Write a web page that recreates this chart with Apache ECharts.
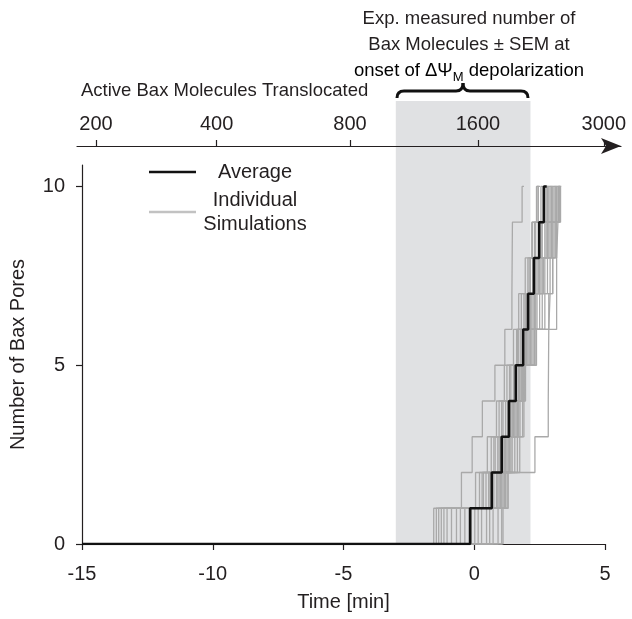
<!DOCTYPE html>
<html>
<head>
<meta charset="utf-8">
<script src="https://cdn.jsdelivr.net/npm/echarts@6/dist/echarts.min.js"></script>
<style>
  html, body { margin: 0; padding: 0; background: #fff; }
  #chart { width: 632px; height: 619px; }
</style>
</head>
<body>
<div id="chart"></div>
<script>
// time axis (minutes)
var timeTicks = [-15, -10, -5, 0, 5];
var poreTicks = [0, 5, 10];

// top axis: molecules translocated, placed at the matching time
var topTickLabels = ['200', '400', '800', '1600', '3000'];
var topTickTimes = [-14.5, -9.88, -4.77, 0.13, 4.95];

// measured window (time)
var shadeRange = [-3.0, 2.15];

// average: time at which pore count reaches 1..10
var avgTimes = [-0.16, 0.67, 1.05, 1.33, 1.59, 1.87, 2.06, 2.28, 2.48, 2.66];
var avgEnd = 2.77;

// individual simulations: time at which pore count reaches 1..10
var simTimes = [
    [-1.55, -0.49, -0.08, 0.31, 0.79, 1.17, 1.44, 1.45, 1.46, 1.83],
    [-1.45, 0.20, 0.65, 0.95, 1.25, 1.62, 1.80, 2.05, 2.30, 2.45],
    [-1.36, 0.35, 0.80, 1.10, 1.40, 1.70, 1.95, 2.10, 2.22, 2.40],
    [-1.26, 0.05, 0.50, 0.85, 1.15, 1.50, 1.70, 1.95, 2.20, 2.38],
    [-1.16, 0.45, 0.90, 1.20, 1.55, 1.85, 2.00, 2.25, 2.50, 2.70],
    [-1.04, 0.55, 1.00, 1.28, 1.50, 1.78, 2.02, 2.30, 2.55, 2.75],
    [-0.87, 0.30, 0.75, 1.05, 1.35, 1.65, 1.90, 2.15, 2.35, 2.55],
    [-0.68, 0.60, 1.10, 1.40, 1.62, 1.95, 2.15, 2.40, 2.60, 2.85],
    [-0.53, 0.75, 1.15, 1.45, 1.70, 2.00, 2.20, 2.45, 2.70, 2.90],
    [-0.36, 0.70, 0.95, 1.30, 1.60, 1.90, 2.10, 2.35, 2.55, 2.80],
    [-0.11, 0.85, 1.20, 1.50, 1.75, 2.05, 2.30, 2.50, 2.75, 2.95],
    [0.02, 0.90, 1.30, 1.55, 1.80, 2.10, 2.35, 2.55, 2.80, 3.00],
    [0.15, 0.95, 1.25, 1.48, 1.72, 1.98, 2.25, 2.60, 2.85, 3.05],
    [0.28, 1.00, 1.35, 1.60, 1.85, 2.15, 2.40, 2.65, 2.90, 3.10],
    [0.47, 1.05, 1.40, 1.65, 1.90, 2.20, 2.50, 2.70, 2.95, 3.15],
    [0.59, 1.10, 1.45, 1.70, 1.88, 2.25, 2.60, 2.80, 3.00, 3.20],
    [0.72, 1.15, 1.55, 1.75, 1.92, 2.30, 2.70, 2.90, 3.05, 3.22],
    [0.91, 1.20, 1.65, 1.85, 1.96, 2.38, 2.85, 3.00, 3.10, 3.25],
    [1.10, 1.26, 1.74, 1.90, 1.96, 2.33, 3.15, 3.15, 3.20, 3.30],
    [1.05, 1.30, 2.32, 2.83, 2.84, 2.85, 2.90, 3.00, 3.15, 3.27]
];
var simEnds = [1.90, 2.52, 2.47, 2.45, 2.77, 2.82, 2.62, 2.92, 2.97, 2.87,
               3.02, 3.07, 3.12, 3.17, 3.22, 3.27, 3.27, 3.30, 3.33, 3.30];

var FONT = 'Liberation Sans, Arial, sans-serif';
var INK = '#231f20';

// step path from the crossing times
function stepData(times, end) {
    var d = [[-15, 0]];
    for (var i = 0; i < times.length; i++) {
        d.push([times[i], i + 1]);
    }
    d.push([end, times.length]);
    return d;
}

var series = [];

// shaded window, drawn in its own grid so it reaches up to the top axis
series.push({
    type: 'line',
    xAxisIndex: 2,
    yAxisIndex: 2,
    data: [],
    silent: true,
    z: -1,
    markArea: {
        silent: true,
        z: -1,
        itemStyle: { color: '#e0e1e3' },
        data: [[{ xAxis: shadeRange[0], yAxis: 0 }, { xAxis: shadeRange[1], yAxis: 1 }]]
    }
});

for (var s = 0; s < simTimes.length; s++) {
    series.push({
        name: 'Individual\nSimulations',
        type: 'line',
        step: 'end',
        showSymbol: false,
        symbol: 'none',
        silent: true,
        lineStyle: { color: '#a9a9a9', width: 1.3 },
        itemStyle: { color: '#a9a9a9' },
        data: stepData(simTimes[s], simEnds[s])
    });
}

series.push({
    name: 'Average',
    type: 'line',
    step: 'end',
    showSymbol: false,
    symbol: 'none',
    silent: true,
    z: 5,
    lineStyle: { color: '#111', width: 2.6 },
    itemStyle: { color: '#111' },
    data: stepData(avgTimes, avgEnd)
});

// curly brace over the shaded window
var braceStyle = { stroke: '#111', lineWidth: 3, fill: 'none' };
var brace = [
    { type: 'bezierCurve', shape: { x1: 397, y1: 98, x2: 404, y2: 91, cpx1: 397, cpy1: 91 }, style: braceStyle },
    { type: 'line', shape: { x1: 404, y1: 91, x2: 456, y2: 91 }, style: braceStyle },
    { type: 'bezierCurve', shape: { x1: 456, y1: 91, x2: 463, y2: 83, cpx1: 463, cpy1: 91 }, style: braceStyle },
    { type: 'bezierCurve', shape: { x1: 463, y1: 83, x2: 470, y2: 91, cpx1: 463, cpy1: 91 }, style: braceStyle },
    { type: 'line', shape: { x1: 470, y1: 91, x2: 521, y2: 91 }, style: braceStyle },
    { type: 'bezierCurve', shape: { x1: 521, y1: 91, x2: 528, y2: 98, cpx1: 528, cpy1: 91 }, style: braceStyle }
];

var chart = echarts.init(document.getElementById('chart'), null, { renderer: 'canvas' });

chart.setOption({
    animation: false,
    backgroundColor: '#fff',
    textStyle: { fontFamily: FONT, color: INK },
    grid: [
        { left: 82, right: 27, top: 165, bottom: 75, outerBoundsMode: 'none' },
        { left: 77, right: 11, top: 146, height: 1, outerBoundsMode: 'none' },
        { left: 82, right: 27, top: 101, bottom: 75, outerBoundsMode: 'none' }
    ],
    legend: {
        orient: 'vertical',
        left: 149,
        top: 162,
        padding: 0,
        itemGap: 8,
        itemWidth: 47,
        itemHeight: 2.5,
        icon: 'rect',
        data: [
            { name: 'Average' },
            { name: 'Individual\nSimulations', itemStyle: { color: '#c2c2c2' } }
        ],
        formatter: function (name) { return '{t|' + name + '}'; },
        textStyle: {
            fontFamily: FONT,
            color: INK,
            rich: {
                t: { width: 108, align: 'center', fontSize: 20, lineHeight: 24, fontFamily: FONT, color: INK }
            }
        }
    },
    xAxis: [
        {
            gridIndex: 0,
            type: 'value',
            min: -15,
            max: 5,
            interval: 5,
            name: 'Time [min]',
            nameLocation: 'middle',
            nameGap: 48,
            nameTextStyle: { fontSize: 20, color: INK, fontFamily: FONT },
            axisLine: { onZero: false, lineStyle: { color: INK, width: 1.2 } },
            axisTick: { length: 6, lineStyle: { color: INK, width: 1.2 }, customValues: timeTicks },
            axisLabel: { fontSize: 20, color: INK, margin: 20, customValues: timeTicks },
            splitLine: { show: false }
        },
        {
            gridIndex: 1,
            type: 'value',
            position: 'top',
            z: 10,
            min: -15.23,
            max: 5.61,
            axisLine: {
                onZero: false,
                lineStyle: { color: INK, width: 1.2 },
                symbol: ['none', 'arrow'],
                symbolSize: [12, 20]
            },
            axisTick: { length: 6, lineStyle: { color: INK, width: 1.2 }, customValues: topTickTimes },
            axisLabel: {
                fontSize: 20,
                color: INK,
                margin: 12,
                customValues: topTickTimes,
                formatter: function (v) {
                    for (var i = 0; i < topTickTimes.length; i++) {
                        if (Math.abs(topTickTimes[i] - v) < 1e-6) return topTickLabels[i];
                    }
                    return '';
                }
            },
            splitLine: { show: false }
        },
        { gridIndex: 2, type: 'value', min: -15, max: 5, show: false }
    ],
    yAxis: [
        {
            gridIndex: 0,
            type: 'value',
            min: 0,
            max: 10.6,
            name: 'Number of Bax Pores',
            nameLocation: 'middle',
            nameGap: 54,
            nameTextStyle: { fontSize: 20, color: INK, fontFamily: FONT },
            axisLine: { show: true, onZero: false, lineStyle: { color: INK, width: 1.2 } },
            axisTick: { show: true, length: 6, lineStyle: { color: INK, width: 1.2 }, customValues: poreTicks },
            axisLabel: { fontSize: 20, color: INK, margin: 17, customValues: poreTicks },
            splitLine: { show: false }
        },
        { gridIndex: 1, type: 'value', min: 0, max: 1, show: false },
        { gridIndex: 2, type: 'value', min: 0, max: 1, show: false }
    ],
    graphic: [
        {
            type: 'text',
            left: 81,
            top: 81,
            style: {
                text: 'Active Bax Molecules Translocated',
                font: '18.5px ' + FONT,
                fill: INK
            }
        },
        {
            type: 'text',
            x: 469,
            y: 19,
            style: {
                text: 'Exp. measured number of',
                font: '18.5px ' + FONT,
                fill: INK,
                align: 'center',
                verticalAlign: 'middle'
            }
        },
        {
            type: 'text',
            x: 469,
            y: 45,
            style: {
                text: 'Bax Molecules \u00b1 SEM at',
                font: '18.5px ' + FONT,
                fill: INK,
                align: 'center',
                verticalAlign: 'middle'
            }
        },
        {
            type: 'text',
            x: 469,
            y: 71,
            style: {
                text: '{n|onset of \u0394\u03a8}{s|M}{n| depolarization}',
                align: 'center',
                verticalAlign: 'middle',
                rich: {
                    n: { fontSize: 18.5, fontFamily: FONT, color: INK, lineHeight: 26 },
                    s: { fontSize: 13, fontFamily: FONT, color: INK, lineHeight: 16, verticalAlign: 'bottom' }
                }
            }
        }
    ].concat(brace),
    series: series
});
</script>
</body>
</html>
